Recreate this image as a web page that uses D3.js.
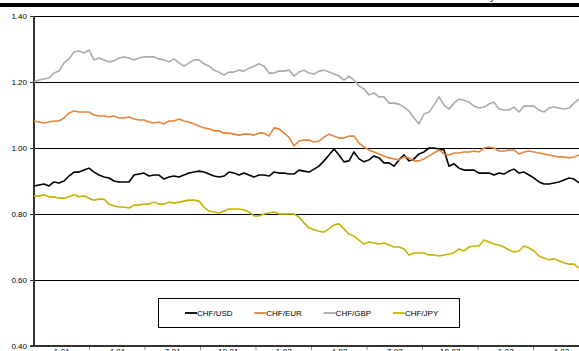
<!DOCTYPE html>
<html>
<head>
<meta charset="utf-8">
<script src="https://cdn.jsdelivr.net/npm/d3@7"></script>
<style>
  body { margin: 0; background: #fff; }
  svg { display: block; font-family: "Liberation Sans", Arial, sans-serif; }
</style>
</head>
<body>
<div id="chart"></div>
<script>
// Quarterly category labels along the x axis
const quarterLabels = ["1-01", "4-01", "7-01", "10-01", "1-02", "4-02", "7-02", "10-02", "1-03", "4-03"];
const yTicks = [0.40, 0.60, 0.80, 1.00, 1.20, 1.40];

// Weekly series
const chfUsd = [
  0.885, 0.888, 0.891, 0.885, 0.897, 0.894, 0.900, 0.915, 0.927, 0.927,
  0.933, 0.939, 0.927, 0.918, 0.912, 0.909, 0.900, 0.897, 0.897, 0.897,
  0.918, 0.921, 0.924, 0.915, 0.918, 0.918, 0.906, 0.912, 0.915, 0.912,
  0.918, 0.924, 0.927, 0.930, 0.927, 0.921, 0.915, 0.912, 0.915, 0.927,
  0.924, 0.918, 0.924, 0.918, 0.912, 0.918, 0.918, 0.915, 0.927, 0.924,
  0.924, 0.921, 0.921, 0.933, 0.930, 0.927, 0.936, 0.945, 0.961, 0.979,
  0.997, 0.979, 0.958, 0.961, 0.988, 0.967, 0.958, 0.964, 0.976, 0.970,
  0.955, 0.955, 0.945, 0.964, 0.979, 0.961, 0.967, 0.982, 0.988, 1.000,
  1.000, 0.997, 0.994, 0.945, 0.952, 0.939, 0.933, 0.933, 0.933, 0.924,
  0.924, 0.924, 0.918, 0.924, 0.921, 0.930, 0.936, 0.924, 0.927, 0.918,
  0.909, 0.897, 0.891, 0.891, 0.894, 0.897, 0.903, 0.909, 0.906, 0.894
];
const chfEur = [
  1.082, 1.079, 1.076, 1.079, 1.082, 1.082, 1.091, 1.106, 1.112, 1.109,
  1.109, 1.109, 1.100, 1.097, 1.097, 1.094, 1.097, 1.091, 1.091, 1.094,
  1.088, 1.085, 1.085, 1.079, 1.076, 1.079, 1.073, 1.082, 1.082, 1.088,
  1.082, 1.079, 1.073, 1.067, 1.061, 1.058, 1.052, 1.052, 1.045, 1.045,
  1.042, 1.039, 1.042, 1.042, 1.039, 1.045, 1.045, 1.036, 1.061, 1.058,
  1.045, 1.033, 1.006, 1.021, 1.024, 1.024, 1.018, 1.021, 1.033, 1.042,
  1.036, 1.030, 1.030, 1.036, 1.036, 1.015, 1.003, 0.994, 0.988, 0.982,
  0.976, 0.970, 0.967, 0.964, 0.973, 0.970, 0.961, 0.961, 0.967, 0.976,
  0.985, 0.994, 0.982, 0.979, 0.985, 0.985, 0.988, 0.988, 0.991, 0.988,
  1.000, 1.003, 1.000, 0.991, 0.991, 0.994, 0.994, 0.982, 0.988, 0.991,
  0.988, 0.985, 0.982, 0.979, 0.976, 0.973, 0.973, 0.970, 0.973, 0.979
];
const chfGbp = [
  1.200, 1.206, 1.209, 1.212, 1.227, 1.233, 1.258, 1.270, 1.291, 1.294,
  1.288, 1.297, 1.267, 1.273, 1.267, 1.261, 1.264, 1.273, 1.276, 1.273,
  1.267, 1.273, 1.276, 1.276, 1.276, 1.270, 1.267, 1.261, 1.270, 1.258,
  1.248, 1.258, 1.267, 1.267, 1.255, 1.248, 1.236, 1.230, 1.221, 1.230,
  1.230, 1.236, 1.233, 1.242, 1.248, 1.255, 1.248, 1.227, 1.227, 1.233,
  1.233, 1.236, 1.218, 1.230, 1.236, 1.227, 1.224, 1.233, 1.236, 1.230,
  1.224, 1.218, 1.206, 1.218, 1.206, 1.188, 1.179, 1.161, 1.167, 1.155,
  1.155, 1.136, 1.136, 1.133, 1.124, 1.112, 1.091, 1.073, 1.103, 1.109,
  1.130, 1.155, 1.130, 1.118, 1.136, 1.148, 1.145, 1.139, 1.127, 1.121,
  1.124, 1.133, 1.139, 1.118, 1.115, 1.115, 1.124, 1.109, 1.127, 1.127,
  1.127, 1.115, 1.109, 1.121, 1.124, 1.121, 1.118, 1.121, 1.136, 1.148
];
const chfJpy = [
  0.855, 0.855, 0.858, 0.852, 0.852, 0.848, 0.848, 0.852, 0.858, 0.852,
  0.855, 0.848, 0.842, 0.845, 0.845, 0.830, 0.824, 0.821, 0.821, 0.818,
  0.827, 0.827, 0.830, 0.830, 0.836, 0.830, 0.830, 0.836, 0.833, 0.836,
  0.839, 0.842, 0.842, 0.839, 0.821, 0.809, 0.806, 0.803, 0.809, 0.815,
  0.815, 0.815, 0.812, 0.806, 0.794, 0.794, 0.800, 0.803, 0.806, 0.800,
  0.800, 0.800, 0.800, 0.791, 0.773, 0.758, 0.752, 0.748, 0.745, 0.755,
  0.767, 0.770, 0.755, 0.739, 0.733, 0.721, 0.709, 0.715, 0.712, 0.709,
  0.712, 0.706, 0.700, 0.700, 0.694, 0.676, 0.682, 0.682, 0.682, 0.676,
  0.676, 0.673, 0.676, 0.679, 0.682, 0.694, 0.688, 0.700, 0.703, 0.703,
  0.721, 0.715, 0.709, 0.706, 0.700, 0.691, 0.685, 0.688, 0.703, 0.697,
  0.688, 0.673, 0.667, 0.661, 0.664, 0.658, 0.652, 0.648, 0.648, 0.636
];

const seriesNames = ["CHF/USD", "CHF/EUR", "CHF/GBP", "CHF/JPY"];
const seriesColors = ["#000000", "#E8843A", "#AAAAAA", "#C8B400"];
const seriesData = [chfUsd, chfEur, chfGbp, chfJpy];

const width = 579, height = 351;
const plot = { left: 34, top: 16, bottom: 346 };

const svg = d3.select("#chart").append("svg")
    .attr("width", width)
    .attr("height", height);

// Title strip at the very top (mostly cut off)
svg.append("text")
    .attr("x", 495).attr("y", 0)
    .attr("text-anchor", "end")
    .attr("font-size", 10)
    .text("CHF cross rates weekly");
svg.append("rect")
    .attr("x", 0).attr("y", 3)
    .attr("width", width).attr("height", 4)
    .attr("fill", "#000");

// Scales
const x = d3.scaleLinear()
    .domain([0, chfUsd.length - 1])
    .range([plot.left, 579]);
const xBand = d3.scaleBand()
    .domain(quarterLabels)
    .range([plot.left, plot.left + quarterLabels.length * 55.5]);
const y = d3.scaleLinear()
    .domain([0.40, 1.40])
    .range([plot.bottom, plot.top]);

// Gridlines
svg.append("g")
    .selectAll("line")
    .data(yTicks.filter(d => d > 0.40))
    .join("line")
    .attr("x1", plot.left).attr("x2", width)
    .attr("y1", d => y(d) + 0.5).attr("y2", d => y(d) + 0.5)
    .attr("stroke", "#000").attr("stroke-width", 1);

// Y axis
const yAxis = svg.append("g")
    .attr("transform", `translate(${plot.left},0)`)
    .call(d3.axisLeft(y).tickValues(yTicks).tickFormat(d3.format(".2f")).tickSize(4).tickPadding(3));
yAxis.select(".domain").remove();
yAxis.selectAll(".tick line").attr("stroke", "#333");
yAxis.selectAll("text").attr("font-size", 8).attr("font-family", "Liberation Sans, Arial, sans-serif").attr("fill", "#000");
svg.append("line")
    .attr("x1", plot.left).attr("x2", plot.left)
    .attr("y1", plot.top).attr("y2", plot.bottom + 1)
    .attr("stroke", "#333").attr("stroke-width", 2);

// X axis (category style, labels cut off by the page edge)
const xAxis = svg.append("g")
    .attr("transform", `translate(0,${plot.bottom})`)
    .call(d3.axisBottom(xBand).tickSize(0).tickPadding(2.5));
xAxis.select(".domain").remove();
xAxis.selectAll("text").attr("font-size", 8).attr("font-family", "Liberation Sans, Arial, sans-serif").attr("fill", "#000");
svg.append("g")
    .selectAll("line")
    .data(quarterLabels.slice(1))
    .join("line")
    .attr("x1", d => xBand(d)).attr("x2", d => xBand(d))
    .attr("y1", plot.bottom).attr("y2", plot.bottom + 4)
    .attr("stroke", "#888");
svg.append("line")
    .attr("x1", plot.left - 4).attr("x2", width)
    .attr("y1", plot.bottom).attr("y2", plot.bottom)
    .attr("stroke", "#333").attr("stroke-width", 2);

// Series lines
const line = d3.line()
    .x((d, i) => x(i))
    .y(d => y(d));
svg.append("g")
    .selectAll("path")
    .data(seriesData)
    .join("path")
    .attr("d", d => line(d))
    .attr("fill", "none")
    .attr("stroke", (d, i) => seriesColors[i])
    .attr("stroke-width", 1.6)
    .attr("stroke-linejoin", "round");

// Legend
const legend = svg.append("g").attr("transform", "translate(158,298)");
legend.append("rect")
    .attr("x", 0.5).attr("y", 0.5)
    .attr("width", 301).attr("height", 29)
    .attr("fill", "#fff").attr("stroke", "#000");
const item = legend.selectAll(".item")
    .data(seriesNames)
    .join("g")
    .attr("class", "item")
    .attr("transform", (d, i) => `translate(${27 + i * 69.3},15)`);
item.append("line")
    .attr("x1", 0).attr("x2", 12)
    .attr("stroke", (d, i) => seriesColors[i])
    .attr("stroke-width", 1.8);
item.append("text")
    .attr("x", 12).attr("y", 3)
    .attr("font-size", 8)
    .text(d => d);
</script>
</body>
</html>
